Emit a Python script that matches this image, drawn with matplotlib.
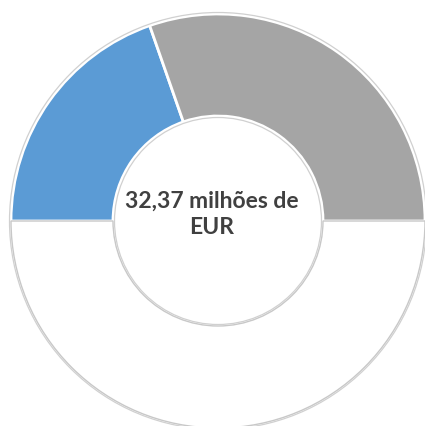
import matplotlib.pyplot as plt
from matplotlib.patches import Circle

labels = ['Azul', 'Cinzento', 'Oculto']
values = [12.72, 19.65, 32.37]
colors = ['#5B9BD5', '#A5A5A5', '#FFFFFF']
center_text = '32,37 milhões de\nEUR'

fig = plt.figure(figsize=(4.25, 4.27), dpi=100)
ax = fig.add_axes([0, 0, 1, 1])

cx, cy = 218, 205
r_out, r_in = 207, 105

wedges, _ = ax.pie(values, colors=colors, startangle=180, counterclock=False,
                   center=(cx, cy), radius=r_out, frame=True,
                   wedgeprops=dict(width=r_out - r_in, edgecolor='white', linewidth=2))
ax.set_xlim(0, 425)
ax.set_ylim(0, 427)
ax.set_aspect('equal')
ax.axis('off')

# light outline on the hidden half and around the ring
wedges[2].set_edgecolor('#c8c8c8')
wedges[2].set_linewidth(1)
for r in [r_out + 1.5, r_in - 1.5]:
    ax.add_patch(Circle((cx, cy), r, fill=False, edgecolor='#d0d0d0', linewidth=0.9))

ax.text(212, 213, center_text, ha='center', va='center', fontsize=16.5,
        fontweight='bold', color='#404040', family=['Lato', 'DejaVu Sans'],
        linespacing=1.3)

fig.savefig('out.png', dpi=100)
